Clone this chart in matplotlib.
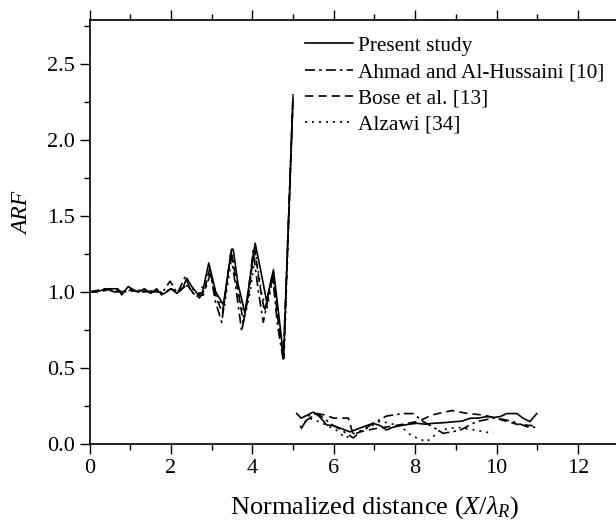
import matplotlib
matplotlib.use("Agg")
import matplotlib.pyplot as plt
from matplotlib.ticker import MultipleLocator, FixedLocator, FormatStrFormatter

plt.rcParams['font.family'] = ['Liberation Serif', 'DejaVu Serif']
plt.rcParams['mathtext.fontset'] = 'custom'
plt.rcParams['mathtext.rm'] = 'Liberation Serif'
plt.rcParams['mathtext.it'] = 'Liberation Serif:italic'

# ---- data ----
# Near field (x <= 5)
present_x1 = [0.0, 0.15, 0.3, 0.38, 0.5, 0.7, 0.79, 0.95, 1.1, 1.2, 1.35, 1.5, 1.65, 1.77, 1.9, 2.0,
              2.15, 2.3, 2.39, 2.5, 2.67, 2.78, 2.93, 3.1, 3.29, 3.49, 3.53, 3.65, 3.82, 3.95,
              4.07, 4.2, 4.35, 4.52, 4.65, 4.77, 5.0]
present_y1 = [1.0, 1.0, 1.01, 1.02, 1.02, 1.02, 0.98, 1.035, 1.01, 1.0, 1.02, 0.99, 1.02, 0.98, 1.0, 1.02,
              0.99, 1.03, 1.09, 1.04, 0.98, 1.0, 1.19, 1.0, 0.915, 1.28, 1.28, 1.05, 0.86, 1.1,
              1.32, 1.15, 0.94, 1.145, 0.85, 0.57, 2.28]

ahmad_x1 = [0.0, 0.2, 0.4, 0.6, 0.8, 1.0, 1.2, 1.4, 1.6, 1.8, 1.98, 2.16, 2.35, 2.5, 2.7, 2.85,
            2.97, 3.1, 3.25, 3.47, 3.6, 3.74, 3.88, 4.02, 4.15, 4.27, 4.5, 4.62, 4.76, 5.0]
ahmad_y1 = [1.0, 1.01, 1.02, 1.0, 1.0, 1.02, 1.0, 1.01, 1.0, 1.0, 1.07, 0.99, 1.1, 1.0, 0.96, 1.02,
            1.12, 0.93, 0.80, 1.25, 1.02, 0.74, 0.95, 1.27, 1.0, 0.80, 1.1, 0.78, 0.55, 2.26]

bose_x1 = [0.0, 0.2, 0.4, 0.6, 0.8, 1.0, 1.2, 1.4, 1.6, 1.8, 2.0, 2.2, 2.4, 2.6, 2.8,
           2.95, 3.1, 3.27, 3.48, 3.62, 3.78, 3.92, 4.05, 4.18, 4.3, 4.5, 4.63, 4.77, 5.0]
bose_y1 = [1.0, 1.0, 1.01, 1.02, 1.0, 1.01, 1.0, 1.0, 1.01, 0.99, 1.02, 1.0, 1.05, 0.97, 0.98,
           1.15, 0.97, 0.86, 1.27, 1.05, 0.80, 1.0, 1.3, 1.05, 0.87, 1.12, 0.82, 0.56, 2.3]

alzawi_x1 = [0.0, 0.3, 0.6, 0.9, 1.2, 1.5, 1.8, 2.1, 2.4, 2.7, 2.95, 3.15, 3.3, 3.5, 3.65, 3.8,
             3.95, 4.08, 4.22, 4.35, 4.52, 4.65, 4.78, 5.0]
alzawi_y1 = [1.0, 1.01, 1.01, 1.0, 1.01, 1.0, 1.0, 1.01, 1.04, 0.99, 1.13, 0.96, 0.88, 1.24, 1.0, 0.82,
             1.0, 1.26, 1.0, 0.88, 1.1, 0.8, 0.56, 2.27]

# Far field (x > 5)
present_x2 = [5.09, 5.2, 5.35, 5.5, 5.65, 5.83, 6.0, 6.2, 6.4, 6.6, 6.8, 6.97, 7.15, 7.3, 7.45, 7.63,
              7.85, 8.04, 8.25, 8.45, 8.7, 8.94, 9.15, 9.35, 9.55, 9.76, 9.95, 10.09, 10.25, 10.5,
              10.65, 10.82, 10.99]
present_y2 = [0.20, 0.17, 0.19, 0.21, 0.18, 0.125, 0.12, 0.10, 0.08, 0.10, 0.12, 0.136, 0.12, 0.092, 0.11, 0.12,
              0.13, 0.136, 0.13, 0.136, 0.14, 0.146, 0.15, 0.169, 0.17, 0.18, 0.175, 0.18, 0.20, 0.20,
              0.17, 0.147, 0.20]

ahmad_x2 = [5.2, 5.4, 5.6, 5.8, 6.0, 6.2, 6.48, 6.7, 6.97, 7.3, 7.71, 7.95, 8.2, 8.45, 8.69, 9.1,
            9.5, 9.92, 10.2, 10.5, 10.74, 10.95]
ahmad_y2 = [0.10, 0.19, 0.20, 0.16, 0.12, 0.09, 0.04, 0.09, 0.136, 0.184, 0.20, 0.20, 0.147, 0.11, 0.07, 0.09,
            0.146, 0.17, 0.16, 0.14, 0.114, 0.11]

bose_x2 = [5.3, 5.58, 5.8, 6.0, 6.36, 6.48, 6.65, 7.0, 7.5, 8.1, 8.4, 8.9, 9.3, 9.7, 10.1, 10.5,
           10.9]
bose_y2 = [0.15, 0.20, 0.19, 0.17, 0.17, 0.06, 0.08, 0.10, 0.12, 0.15, 0.19, 0.22, 0.20, 0.19, 0.16, 0.13,
           0.12]

alzawi_x2 = [5.17, 5.4, 5.7, 6.07, 6.2, 6.3, 6.5, 6.8, 7.14, 7.46, 7.63, 7.83, 8.04, 8.28, 8.45, 8.61,
             9.02, 9.51, 9.92]
alzawi_y2 = [0.11, 0.17, 0.14, 0.09, 0.06, 0.04, 0.07, 0.10, 0.15, 0.13, 0.125, 0.07, 0.04, 0.015, 0.05, 0.09,
             0.11, 0.09, 0.07]

labels = ['Present study', 'Ahmad and Al-Hussaini [10]', 'Bose et al. [13]', 'Alzawi [34]']
x_major_ticks = [0, 2, 4, 6, 8, 10, 12]

# ---- figure ----
fig = plt.figure(figsize=(6.16, 5.28), dpi=100)
ax = fig.add_axes([89.5 / 616, 84 / 528, 14 * 40.7 / 616, 424.5 / 528])

lw = 1.2
dashdot = (0, (6, 2.5, 1.5, 2.5))
dashed = (0, (5, 3))
dotted = (0, (1.2, 3))

ax.plot(present_x1, present_y1, color='black', lw=lw, ls='-', label=labels[0])
ax.plot(present_x2, present_y2, color='black', lw=lw, ls='-')
ax.plot(ahmad_x1, ahmad_y1, color='black', lw=lw, ls=dashdot, label=labels[1])
ax.plot(ahmad_x2, ahmad_y2, color='black', lw=lw, ls=dashdot)
ax.plot(bose_x1, bose_y1, color='black', lw=lw, ls=dashed, label=labels[2])
ax.plot(bose_x2, bose_y2, color='black', lw=lw, ls=dashed)
ax.plot(alzawi_x1, alzawi_y1, color='black', lw=lw, ls=dotted, label=labels[3])
ax.plot(alzawi_x2, alzawi_y2, color='black', lw=lw, ls=dotted)

ax.set_xlim(0, 14)
ax.set_ylim(0, 2.79)
ax.xaxis.set_major_locator(FixedLocator(x_major_ticks))
ax.xaxis.set_minor_locator(MultipleLocator(1))
ax.yaxis.set_major_locator(MultipleLocator(0.5))
ax.yaxis.set_minor_locator(MultipleLocator(0.25))
ax.yaxis.set_major_formatter(FormatStrFormatter('%.1f'))

ax.tick_params(which='both', direction='out', top=True, right=False, labeltop=False,
               labelsize=16, width=1.0, color='black')
ax.tick_params(which='major', length=7)
ax.tick_params(which='minor', length=4)
for s in ['left', 'bottom', 'top']:
    ax.spines[s].set_linewidth(1.2)
ax.spines['right'].set_visible(False)

ax.set_xlabel(r'Normalized distance ($\mathit{X}/\lambda_{\mathit{R}}$)', fontsize=19, labelpad=12)
ax.set_ylabel('ARF', fontsize=17, style='italic')
ax.yaxis.set_label_coords((33 - 89.5) / 569.8, (444 - 213) / 424.5)

leg = ax.legend(loc='upper left', bbox_to_anchor=(305 / 616, 0.932), bbox_transform=fig.transFigure,
                frameon=False, fontsize=15.3, handlelength=2.25, handletextpad=0.25,
                labelspacing=0.3, borderpad=0, borderaxespad=0)

fig.savefig('out.png', dpi=100)
